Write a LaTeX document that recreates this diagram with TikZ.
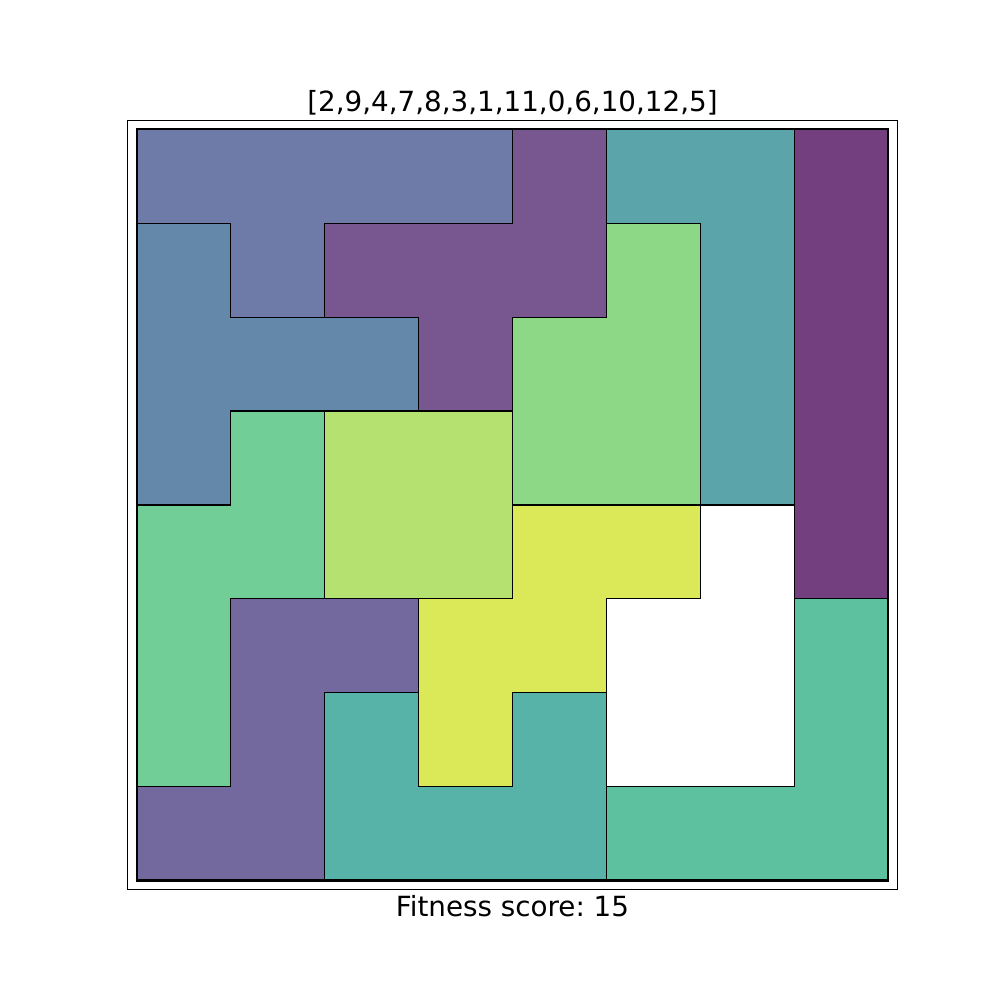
\documentclass[tikz,border=0pt]{standalone}
\usepackage{fontspec}
\setmainfont{DejaVu Sans}
\frenchspacing
\definecolor{pieceA}{HTML}{6E7BA8}
\definecolor{pieceB}{HTML}{78568F}
\definecolor{pieceC}{HTML}{5BA4AA}
\definecolor{pieceD}{HTML}{733F7F}
\definecolor{pieceE}{HTML}{6388A9}
\definecolor{pieceF}{HTML}{8DD886}
\definecolor{pieceG}{HTML}{71CE96}
\definecolor{pieceH}{HTML}{B4E170}
\definecolor{pieceI}{HTML}{DBE958}
\definecolor{pieceJ}{HTML}{73699F}
\definecolor{pieceK}{HTML}{57B2A8}
\definecolor{pieceL}{HTML}{5DC1A0}

\begin{document}
\begin{tikzpicture}[x=0.939in, y=0.939in,
    piece/.style={draw=black, line width=0.9bp},
    bigtext/.style={anchor=base, font=\fontsize{20bp}{24bp}\selectfont}]
  \useasboundingbox (-1.458,-1.272) rectangle (9.192,9.378);
  % ---- axes frame ----
  \draw[line width=0.7bp] (-0.1,-0.1) rectangle (8.1,8.1);
  % ---- top rows ----
  \filldraw[piece, fill=pieceA] (0,8) -- (4,8) -- (4,7) -- (2,7) -- (2,6) -- (1,6) -- (1,7) -- (0,7) -- cycle;
  \filldraw[piece, fill=pieceB] (4,8) -- (5,8) -- (5,6) -- (4,6) -- (4,5) -- (3,5) -- (3,6) -- (2,6) -- (2,7) -- (4,7) -- cycle;
  \filldraw[piece, fill=pieceC] (5,8) -- (7,8) -- (7,4) -- (6,4) -- (6,7) -- (5,7) -- cycle;
  \filldraw[piece, fill=pieceD] (7,8) -- (8,8) -- (8,3) -- (7,3) -- cycle;
  \filldraw[piece, fill=pieceE] (0,7) -- (1,7) -- (1,6) -- (3,6) -- (3,5) -- (1,5) -- (1,4) -- (0,4) -- cycle;
  \filldraw[piece, fill=pieceF] (5,7) -- (6,7) -- (6,4) -- (4,4) -- (4,6) -- (5,6) -- cycle;
  % ---- middle ----
  \filldraw[piece, fill=pieceG] (1,5) -- (2,5) -- (2,3) -- (1,3) -- (1,1) -- (0,1) -- (0,4) -- (1,4) -- cycle;
  \filldraw[piece, fill=pieceH] (2,5) -- (4,5) -- (4,3) -- (2,3) -- cycle;
  \filldraw[piece, fill=pieceI] (4,4) -- (6,4) -- (6,3) -- (5,3) -- (5,2) -- (4,2) -- (4,1) -- (3,1) -- (3,3) -- (4,3) -- cycle;
  % ---- bottom rows ----
  \filldraw[piece, fill=pieceJ] (1,3) -- (3,3) -- (3,2) -- (2,2) -- (2,0) -- (0,0) -- (0,1) -- (1,1) -- cycle;
  \filldraw[piece, fill=pieceK] (2,2) -- (3,2) -- (3,1) -- (4,1) -- (4,2) -- (5,2) -- (5,0) -- (2,0) -- cycle;
  \filldraw[piece, fill=pieceL] (7,3) -- (8,3) -- (8,0) -- (5,0) -- (5,1) -- (7,1) -- cycle;
  % ---- board edge ----
  \draw[line width=1.6bp] (0,0) rectangle (8,8);
  \node[bigtext] (title) at (4,8.19) {[2,9,4,7,8,3,1,11,0,6,10,12,5]};
  \node[bigtext] (score) at (4,-0.387) {Fitness score: 15};
\end{tikzpicture}
\end{document}
